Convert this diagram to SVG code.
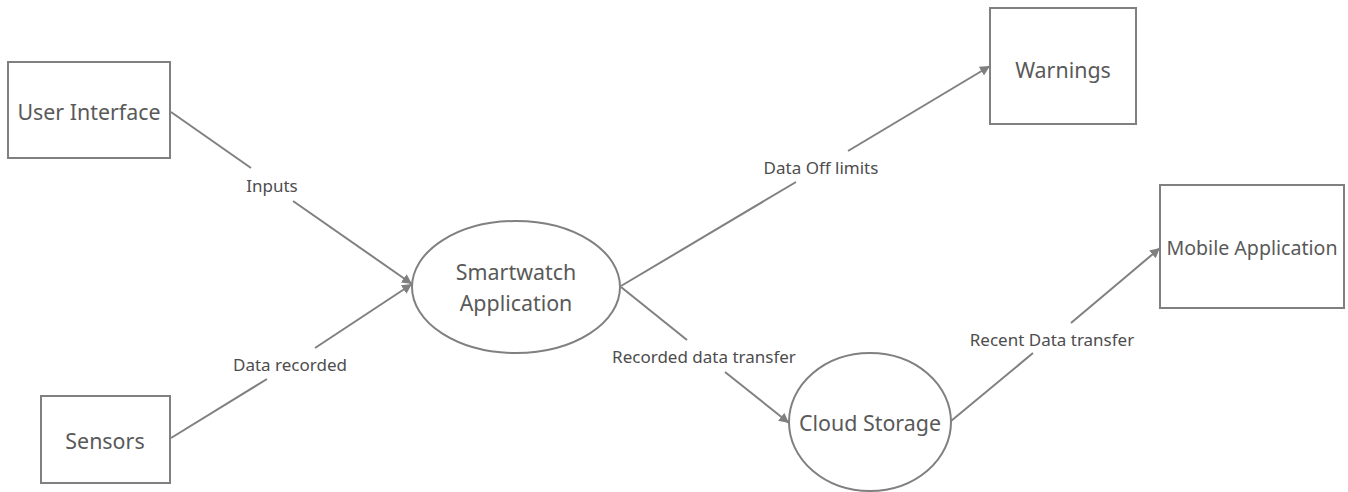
<svg xmlns="http://www.w3.org/2000/svg" width="1348" height="492" viewBox="0 0 1348 492">
<defs>
<marker id="arr" viewBox="0 0 10 10" refX="10" refY="5" markerWidth="10" markerHeight="10" markerUnits="userSpaceOnUse" orient="auto">
<path d="M0,0 L10,5 L0,10 z" fill="#7f7f7f"/>
</marker>
<style>
.box{fill:#fff;stroke:#808080;stroke-width:2}
.nt{font-family:"Noto Sans","Open Sans",sans-serif;font-size:21.4px;fill:#595959;text-anchor:middle}
.lt{font-family:"Noto Sans","Open Sans",sans-serif;font-size:17px;fill:#4d4d4d;text-anchor:middle}
.ln{fill:none;stroke:#808080;stroke-width:2}
</style>
</defs>
<rect width="1348" height="492" fill="#fff"/>
<g id="connectors">
<path class="ln" d="M171,112 L251,168"/>
<path class="ln" d="M293,201 L412,284" marker-end="url(#arr)"/>
<path class="ln" d="M171,438 L267,379"/>
<path class="ln" d="M315,348 L412,284" marker-end="url(#arr)"/>
<path class="ln" d="M621,286 L796,182"/>
<path class="ln" d="M848,151 L990,66" marker-end="url(#arr)"/>
<path class="ln" d="M621,287 L687,340"/>
<path class="ln" d="M725,372 L789,423" marker-end="url(#arr)"/>
<path class="ln" d="M951,421 L1033,353"/>
<path class="ln" d="M1071,323 L1160,248" marker-end="url(#arr)"/>
<text class="lt" x="272" y="192">Inputs</text>
<text class="lt" x="290" y="371">Data recorded</text>
<text class="lt" x="821" y="174">Data Off limits</text>
<text class="lt" x="704" y="363">Recorded data transfer</text>
<text class="lt" x="1052" y="346">Recent Data transfer</text>
</g>
<g id="user-interface">
<rect class="box" x="8" y="62" width="162" height="96"/>
<text class="nt" x="89" y="120">User Interface</text>
</g>
<g id="sensors">
<rect class="box" x="41" y="396" width="129" height="87"/>
<text class="nt" x="105" y="449">Sensors</text>
</g>
<g id="smartwatch-application">
<ellipse class="box" cx="516" cy="287" rx="104" ry="66"/>
<text class="nt" x="516" y="280">Smartwatch</text>
<text class="nt" x="516" y="311">Application</text>
</g>
<g id="warnings">
<rect class="box" x="990" y="8" width="146" height="116"/>
<text class="nt" x="1063" y="78">Warnings</text>
</g>
<g id="mobile-application">
<rect class="box" x="1160" y="185" width="184" height="123"/>
<text class="nt" x="1252" y="255" style="font-size:19.6px">Mobile Application</text>
</g>
<g id="cloud-storage">
<ellipse class="box" cx="870" cy="422" rx="81" ry="69"/>
<text class="nt" x="870" y="431">Cloud Storage</text>
</g>
</svg>
